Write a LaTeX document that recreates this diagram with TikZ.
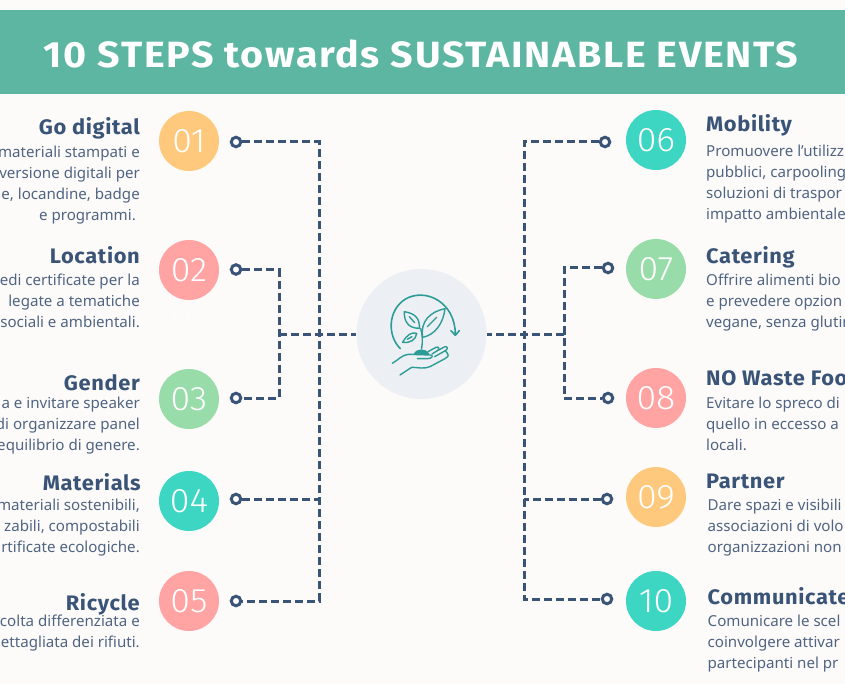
\documentclass[tikz,border=0pt]{standalone}
\usepackage{fontspec}
\setmainfont{Noto Sans}
\newfontfamily\headfont[FakeStretch=1.04,LetterSpace=3]{Fira Sans}
\newfontfamily\titlefont[FakeStretch=1.08,LetterSpace=4.5]{Fira Sans}
\newfontfamily\numfont[FakeStretch=1.05]{Fira Sans Light}
\usetikzlibrary{arrows.meta}
\definecolor{bgc}{HTML}{FDFBF9}
\definecolor{bannerc}{HTML}{5CB6A2}
\definecolor{navy}{HTML}{3A5478}
\definecolor{bodyc}{HTML}{4F6482}
\definecolor{orangec}{HTML}{FFC97D}
\definecolor{pinkc}{HTML}{FFA3A3}
\definecolor{greenc}{HTML}{98DDA9}
\definecolor{tealc}{HTML}{3DD6C3}
\definecolor{hubc}{HTML}{ECF0F4}
\definecolor{iconc}{HTML}{2E9C96}
\tikzset{
  num/.style={circle,minimum size=60pt,inner sep=0pt,text=white,font=\numfont\fontsize{34}{34}\selectfont},
  ring/.style={circle,draw=navy,line width=3pt,fill=none,minimum size=9.5pt,inner sep=0pt},
  conn/.style={draw=navy,line width=3pt,dash pattern=on 8pt off 4pt},
  headl/.style={anchor=base east,inner sep=0pt,text=navy,font=\headfont\fontsize{21}{24}\selectfont\bfseries},
  headr/.style={anchor=base west,inner sep=0pt,text=navy,font=\headfont\fontsize{21}{24}\selectfont\bfseries},
  bodyl/.style={anchor=north east,inner sep=0pt,align=right,text=bodyc,font=\fontsize{15.1}{21}\selectfont},
  bodyr/.style={anchor=north west,inner sep=0pt,align=left,text=bodyc,font=\fontsize{15.1}{21}\selectfont},
  ico/.style={draw=iconc,line width=1.4pt,line cap=round,line join=round,fill=none},
}
\begin{document}
\begin{tikzpicture}[x=1pt,y=-1pt]
\useasboundingbox (0,0) rectangle (845,684);
\clip (0,0) rectangle (845,684);
\fill[bgc] (0,0) rectangle (845,684);
\fill[bannerc] (0,10.5) rectangle (845,94);
\node[inner sep=0pt,text=white,font=\titlefont\fontsize{36.5}{38}\selectfont\bfseries] (title) at (421,53.5) {10 STEPS towards SUSTAINABLE EVENTS};

% hub
\node[circle,fill=hubc,minimum size=130pt,inner sep=0pt] (hub) at (421.5,334) {};
% junction points
\coordinate (busL) at (319,334);
\coordinate (subL) at (279,334);
\coordinate (busR) at (524,334);
\coordinate (subR) at (564,334);

% number circles
\node[num,fill=orangec] (n1) at (189,141) {01};
\node[num,fill=pinkc]   (n2) at (189,270) {02};
\node[num,fill=greenc]  (n3) at (189,399) {03};
\node[num,fill=tealc]   (n4) at (189,501) {04};
\node[num,fill=pinkc]   (n5) at (189,601) {05};
\node[num,fill=tealc]   (n6) at (656,140) {06};
\node[num,fill=greenc]  (n7) at (656,269) {07};
\node[num,fill=pinkc]   (n8) at (656,398) {08};
\node[num,fill=orangec] (n9) at (656,497) {09};
\node[num,fill=tealc]   (n10) at (656,601) {10};
\node[text=white,opacity=0.35,inner sep=0pt,font=\numfont\fontsize{34}{34}\selectfont] (ghost) at (190,318) {02};

% rings
\node[ring] (r1) at (236,142) {};
\node[ring] (r2) at (236,269.5) {};
\node[ring] (r3) at (236,398) {};
\node[ring] (r4) at (236,499) {};
\node[ring] (r5) at (236,601) {};
\node[ring] (r6) at (605,142) {};
\node[ring] (r7) at (608,268) {};
\node[ring] (r8) at (608,398) {};
\node[ring] (r9) at (607,499) {};
\node[ring] (r10) at (607,599) {};

% connectors
\draw[conn] (r1) -| (busL) |- (r5);
\draw[conn] (r4) -- (busL |- r4);
\draw[conn] (r2) -| (subL) |- (r3);
\draw[conn] (subL) -- (hub);
\draw[conn] (r6) -| (busR) |- (r10);
\draw[conn] (r9) -- (busR |- r9);
\draw[conn] (r7) -| (subR) |- (r8);
\draw[conn] (subR) -- (hub);

% left texts
\node[headl] (h1) at (140,135) {Go digital};
\node[headl] (h2) at (140,264) {Location};
\node[headl] (h3) at (140,390) {Gender};
\node[headl] (h4) at (141,490) {Materials};
\node[headl] (h5) at (140,610) {Ricycle};
\node[bodyl] (b1) at (140,146) {materiali stampati e\\versione digitali per\\e, locandine, badge\\e programmi.\hspace*{4pt}};
\node[bodyl] (b2) at (140,274) {edi certificate per la\\legate a tematiche\\sociali e ambientali.};
\node[bodyl] (b3) at (140,397) {a e invitare speaker\\di organizzare panel\\equilibrio di genere.};
\node[bodyl] (b4) at (140,499) {materiali sostenibili,\\zabili, compostabili\\rtificate ecologiche.};
\node[bodyl] (b5) at (140,615) {colta differenziata e\\ettagliata dei rifiuti.};

% right texts
\node[headr] (h6) at (706,132) {Mobility};
\node[headr] (h7) at (706,264) {Catering};
\node[headr] (h8) at (706,385) {NO Waste Foo};
\node[headr] (h9) at (706,488) {Partner};
\node[headr] (h10) at (707.5,604) {Communicate};
\node[bodyr] (b6) at (706,145) {Promuovere l’utilizz\\pubblici, carpooling\\soluzioni di traspor\\impatto ambientale};
\node[bodyr] (b7) at (706,274) {Offrire alimenti bio\\e prevedere opzion\\vegane, senza glutin};
\node[bodyr] (b8) at (706,397) {Evitare lo spreco di\\quello in eccesso a\\locali.};
\node[bodyr] (b9) at (707.5,499) {Dare spazi e visibili\\associazioni di volo\\organizzazioni non};
\node[bodyr] (b10) at (707.5,615) {Comunicare le scel\\coinvolgere attivar\\partecipanti nel pr};

% icon
\begin{scope}[shift={(340,260)},x=0.3333pt,y=-0.3333pt]
  \draw[ico,line width=1.6pt] (181,266) .. controls (140,225) and (145,150) .. (195,118) .. controls (255,82) and (345,125) .. (346,222);
  \draw[ico,line width=1.6pt] (333,212) -- (346,226) -- (358,212);
  % leaves
  \draw[ico] (248,232) .. controls (240,185) and (270,155) .. (315,146) .. controls (310,190) and (285,225) .. (248,232) -- cycle;
  \draw[ico] (262,200) -- (290,172);
  \draw[ico] (238,205) .. controls (205,205) and (192,185) .. (193,155) .. controls (225,160) and (240,175) .. (238,205) -- cycle;
  \draw[ico] (208,170) -- (224,188);
  \draw[ico] (230,220) .. controls (215,215) and (200,225) .. (188,247) .. controls (210,250) and (228,240) .. (230,220) -- cycle;
  \draw[ico] (202,238) -- (216,230);
  % stem
  \draw[ico] (242,205) .. controls (248,225) and (248,245) .. (245,266);
  % mound
  \fill[iconc] (220,282) .. controls (228,265) and (258,262) .. (268,282) -- cycle;
  % hand
  \draw[ico] (157,310) .. controls (175,300) and (185,285) .. (205,283) -- (272,285) .. controls (282,288) and (275,296) .. (262,296) -- (232,296);
  \draw[ico] (264,275) -- (288,262) .. controls (296,258) and (300,268) .. (292,272) -- (276,282);
  \draw[ico] (292,272) -- (315,260) .. controls (323,258) and (325,268) .. (316,272) -- (284,290);
  \draw[ico] (316,272) -- (322,280) .. controls (328,288) and (322,292) .. (315,296) -- (270,320) .. controls (250,328) and (235,322) .. (215,322) -- (180,345);
\end{scope}
\end{tikzpicture}
\end{document}
